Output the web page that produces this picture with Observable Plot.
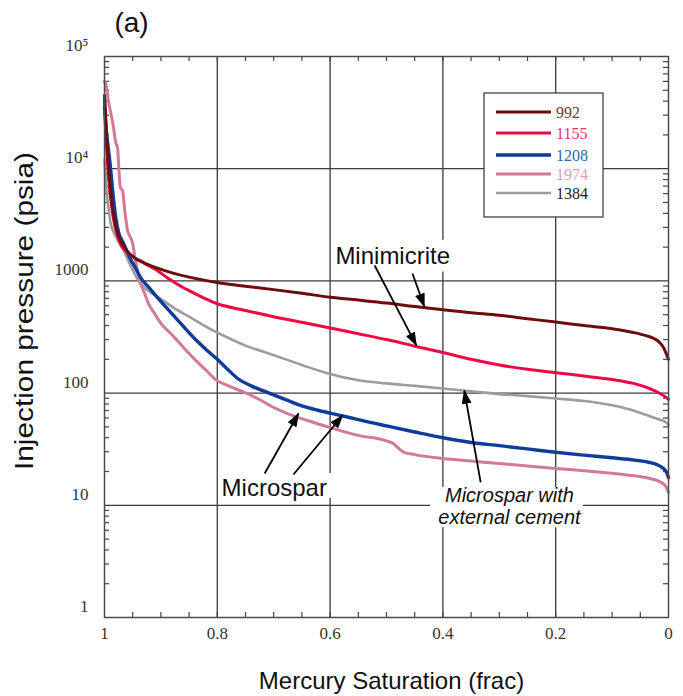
<!DOCTYPE html>
<html>
<head>
<meta charset="utf-8">
<script src="https://cdn.jsdelivr.net/npm/d3@7"></script>
<script src="https://cdn.jsdelivr.net/npm/@observablehq/plot@0.6"></script>
<style>
  body { margin: 0; background: #fff; }
  svg { display: block; }
</style>
</head>
<body>
<div id="chart"></div>
<script>
// Mercury injection capillary pressure curves, five limestone samples.
// Each sample: [mercury saturation (frac), injection pressure (psia)]
const sampleIds = ["992", "1155", "1208", "1974", "1384"];
const lineColors = ["#6e0b0b", "#ec0a44", "#0d3c9c", "#d4789a", "#9c9c9c"];
const legendTextColors = ["#8a3030", "#e8336c", "#2a6aa8", "#e39ab6", "#1a1a1a"];
const lineWidths = [3, 3, 3.4, 3, 2.6];

const curve992 = [
  [1.0, 45000], [0.998, 30000], [0.995, 15000], [0.99, 7000], [0.985, 4200],
  [0.978, 2800], [0.97, 2200], [0.96, 1850], [0.948, 1620], [0.93, 1450],
  [0.91, 1320], [0.88, 1180], [0.85, 1080], [0.8, 968], [0.75, 895],
  [0.7, 836], [0.65, 775], [0.6, 715], [0.55, 675], [0.5, 635],
  [0.45, 590], [0.4, 552], [0.35, 520], [0.3, 493], [0.25, 460],
  [0.2, 430], [0.15, 400], [0.1, 375], [0.062, 347], [0.04, 325],
  [0.025, 305], [0.015, 280], [0.008, 250], [0.004, 225], [0.0, 200]
];
const curve1155 = [
  [1.0, 40000], [0.998, 25000], [0.995, 12000], [0.99, 6000], [0.985, 3800],
  [0.978, 2600], [0.97, 2050], [0.96, 1800], [0.948, 1620], [0.936, 1500],
  [0.92, 1350], [0.906, 1233], [0.89, 1080], [0.87, 930], [0.85, 820],
  [0.8, 626], [0.75, 545], [0.7, 480], [0.65, 428], [0.6, 380],
  [0.55, 338], [0.5, 300], [0.45, 262], [0.4, 230], [0.35, 200],
  [0.3, 178], [0.25, 163], [0.2, 152], [0.15, 142], [0.1, 132],
  [0.062, 122], [0.04, 113], [0.025, 105], [0.012, 97], [0.005, 92], [0.0, 88]
];
const curve1208 = [
  [1.0, 35000], [0.998, 25000], [0.995, 18000], [0.99, 11000], [0.985, 6000],
  [0.98, 3670], [0.975, 2700], [0.966, 2150], [0.955, 1600], [0.945, 1300],
  [0.936, 1070], [0.92, 860], [0.906, 710], [0.885, 540], [0.865, 418],
  [0.84, 305], [0.82, 245], [0.8, 200], [0.78, 160], [0.764, 135],
  [0.74, 116], [0.708, 100], [0.68, 88], [0.65, 77], [0.62, 70],
  [0.58, 63], [0.55, 58], [0.5, 51], [0.45, 45], [0.4, 40],
  [0.35, 36.3], [0.3, 34], [0.25, 31.8], [0.2, 29.7], [0.15, 28],
  [0.1, 26.5], [0.06, 25.3], [0.035, 24.2], [0.02, 23], [0.009, 21.3],
  [0.003, 19.5], [0.0, 17.7]
];
const curve1974 = [
  [1.0, 60000], [0.997, 55000], [0.993, 40000], [0.988, 30000], [0.984, 23300],
  [0.98, 17000], [0.977, 15500], [0.974, 9000], [0.972, 6800], [0.968, 6400],
  [0.964, 4200], [0.959, 2800], [0.955, 2500], [0.95, 2150], [0.945, 1500],
  [0.94, 1150], [0.936, 950], [0.93, 800], [0.922, 626], [0.912, 520],
  [0.9, 418], [0.88, 330], [0.86, 255], [0.84, 200], [0.82, 160],
  [0.803, 132], [0.78, 116], [0.757, 104], [0.73, 90], [0.699, 74],
  [0.67, 64], [0.64, 57], [0.6, 49.3], [0.55, 42], [0.5, 37.5],
  [0.488, 35.5], [0.478, 32], [0.469, 29.7], [0.45, 28.3], [0.4, 26.1],
  [0.35, 24.8], [0.3, 23.6], [0.25, 22.4], [0.2, 21.3], [0.15, 20.3],
  [0.1, 19.3], [0.06, 18.3], [0.035, 17.4], [0.015, 16.2], [0.005, 14.8], [0.0, 13]
];
const curve1384 = [
  [1.0, 12000], [0.997, 7000], [0.993, 4500], [0.989, 3250], [0.98, 2500],
  [0.966, 1870], [0.95, 1250], [0.936, 948], [0.92, 800], [0.9, 690],
  [0.878, 578], [0.85, 480], [0.817, 384], [0.78, 310], [0.75, 265],
  [0.7, 218], [0.65, 178], [0.6, 148], [0.55, 130], [0.5, 122],
  [0.45, 116], [0.4, 110], [0.35, 104], [0.3, 98], [0.25, 94],
  [0.2, 89.6], [0.15, 85], [0.1, 78], [0.062, 70], [0.04, 64],
  [0.02, 59], [0.005, 55], [0.0, 52]
];
const curves = [curve992, curve1155, curve1208, curve1974, curve1384];

// Axis ticks and labels
const xTickValues = [1, 0.8, 0.6, 0.4, 0.2, 0];
const xTickLabels = ["1", "0.8", "0.6", "0.4", "0.2", "0"];
const yTickValues = [1, 10, 100, 1000, 1e4, 1e5];
const yTickLabels = ["1", "10", "100", "1000", "10\u2074", "10\u2075"];
const xGrid = [0.8, 0.6, 0.4, 0.2];
const yGrid = [10, 100, 1000, 1e4];
const xMinor = d3.range(1, 20).map(i => i * 0.05);
const yMinor = [1, 10, 100, 1000, 1e4].flatMap(d => d3.range(2, 10).map(k => k * d));

// Annotations (saturation, psia)
const noteLabels = [
  {text: "Minimicrite", x: 0.489, y: 1650},
  {text: "Microspar", x: 0.699, y: 14.1}
];
const italicNote = {lines: ["Microspar with", "external cement"], x: 0.282, y: [12.1, 7.7]};
const noteBoxes = [
  {x1: 0.595, x2: 0.377, y1: 1200, y2: 2300},
  {x1: 0.795, x2: 0.596, y1: 11.5, y2: 19.2},
  {x1: 0.422, x2: 0.151, y1: 6.3, y2: 14.4}
];
const noteArrows = [
  {x1: 0.454, y1: 1164, x2: 0.433, y2: 591},
  {x1: 0.521, y1: 1372, x2: 0.447, y2: 266},
  {x1: 0.716, y1: 19.2, x2: 0.656, y2: 65.8},
  {x1: 0.665, y1: 18.8, x2: 0.578, y2: 63.1},
  {x1: 0.333, y1: 16, x2: 0.362, y2: 105}
];

const rows = sampleIds.flatMap((id, i) => curves[i].map(([sat, psia]) => ({id, sat, psia})));
const drawOrder = [4, 3, 2, 1, 0];

const W = 683, H = 696;
const M = {top: 56, right: 15, bottom: 79, left: 104};
const frameW = W - M.left - M.right, frameH = H - M.top - M.bottom;
const tickLen = 5;

const serif = "'Liberation Serif', 'Times New Roman', serif";
const sans = "'Liberation Sans', Arial, sans-serif";
const yTitle = "Injection pressure (psia)";

const plot = Plot.plot({
  width: W,
  height: H,
  marginTop: M.top, marginRight: M.right, marginBottom: M.bottom, marginLeft: M.left,
  style: {fontFamily: sans, background: "#fff", overflow: "visible"},
  x: {domain: [1, 0], axis: null},
  y: {type: "log", domain: [1, 1e5], axis: null},
  marks: [
    // grid
    Plot.ruleX(xGrid, {stroke: "#3a3a3a", strokeWidth: 1.3}),
    Plot.ruleY(yGrid, {stroke: "#3a3a3a", strokeWidth: 1.3}),
    // inward minor ticks on all four sides
    Plot.ruleX(xMinor, {stroke: "#444", strokeWidth: 1.2, insetTop: frameH - tickLen}),
    Plot.ruleX(xMinor, {stroke: "#444", strokeWidth: 1.2, insetBottom: frameH - tickLen}),
    Plot.ruleY(yMinor, {stroke: "#444", strokeWidth: 1.2, insetRight: frameW - tickLen}),
    Plot.ruleY(yMinor, {stroke: "#444", strokeWidth: 1.2, insetLeft: frameW - tickLen}),
    // white label backgrounds
    Plot.rect(noteBoxes, {x1: "x1", x2: "x2", y1: "y1", y2: "y2", fill: "#fff"}),
    // capillary pressure curves
    ...drawOrder.map(i => Plot.line(rows.filter(r => r.id === sampleIds[i]), {
      x: "sat", y: "psia", stroke: lineColors[i], strokeWidth: lineWidths[i],
      curve: "monotone-x", strokeLinejoin: "round", strokeLinecap: "round"
    })),
    Plot.frame({stroke: "#4a4a4a", strokeWidth: 1.5}),
    // tick labels
    Plot.text(yTickValues, {
      y: d => d, text: (d, i) => yTickLabels[i], frameAnchor: "left",
      textAnchor: "end", dx: -16, dy: -11, fontFamily: serif, fontSize: 17, fill: "#333"
    }),
    Plot.text(xTickValues, {
      x: d => d, text: (d, i) => xTickLabels[i], frameAnchor: "bottom",
      lineAnchor: "middle", dy: 16, fontFamily: serif, fontSize: 17, fill: "#333"
    }),
    // axis titles and panel tag
    Plot.text([yTitle], {
      frameAnchor: "left", textAnchor: "middle", lineAnchor: "middle",
      dx: -80, dy: -26, rotate: -90, fontSize: 25, fill: "#111"
    }),
    Plot.text(["Mercury Saturation (frac)"], {
      frameAnchor: "bottom", textAnchor: "middle", dx: 5, dy: 64, lineAnchor: "middle",
      fontSize: 24, fill: "#111"
    }),
    Plot.text(["(a)"], {
      frameAnchor: "top-left", textAnchor: "middle", dx: 27, dy: -33, lineAnchor: "middle",
      fontSize: 28, fill: "#111"
    }),
    // annotation labels
    Plot.text(noteLabels, {x: "x", y: "y", text: "text", fontSize: 24, fill: "#111", lineAnchor: "middle"}),
    Plot.text(italicNote.lines, {
      x: () => italicNote.x, y: (d, i) => italicNote.y[i], text: d => d,
      fontSize: 20, fontStyle: "italic", fill: "#111", lineAnchor: "middle"
    }),
    Plot.link(noteArrows, {
      x1: "x1", y1: "y1", x2: "x2", y2: "y2", stroke: "#000", strokeWidth: 1.8
    })
  ]
});

const svg = d3.select(plot);

// filled arrowheads on the annotation arrows
svg.append("defs").append("marker")
  .attr("id", "note-head")
  .attr("viewBox", "0 0 14 10")
  .attr("refX", 13).attr("refY", 5)
  .attr("markerWidth", 14).attr("markerHeight", 10)
  .attr("markerUnits", "userSpaceOnUse")
  .attr("orient", "auto")
  .append("path").attr("d", "M0,0L14,5L0,10Z").attr("fill", "#000");
svg.selectAll("g[aria-label='link'] path").attr("marker-end", "url(#note-head)");

// the vertical title is set a little wider than its natural length
svg.selectAll("text").filter(function () { return this.textContent === yTitle; })
  .attr("textLength", 318).attr("lengthAdjust", "spacingAndGlyphs");

// legend box
const legend = {left: 484, top: 93, width: 119, height: 124, lineX1: 496, lineX2: 551, textX: 556,
                rowsY: [112, 133, 155, 174, 193]};
const lg = svg.append("g").attr("aria-label", "legend").attr("text-anchor", "start");
lg.append("rect")
  .attr("x", legend.left).attr("y", legend.top)
  .attr("width", legend.width).attr("height", legend.height)
  .attr("fill", "#fff").attr("stroke", "#444").attr("stroke-width", 1.3);
sampleIds.forEach((id, i) => {
  const y = legend.rowsY[i];
  lg.append("line")
    .attr("x1", legend.lineX1).attr("x2", legend.lineX2).attr("y1", y).attr("y2", y)
    .attr("stroke", lineColors[i]).attr("stroke-width", lineWidths[i]);
  lg.append("text")
    .attr("x", legend.textX).attr("y", y).attr("dy", "0.35em")
    .attr("text-anchor", "start")
    .attr("font-family", serif).attr("font-size", 16)
    .attr("fill", legendTextColors[i]).text(id);
});

document.getElementById("chart").appendChild(plot);
</script>
</body>
</html>
